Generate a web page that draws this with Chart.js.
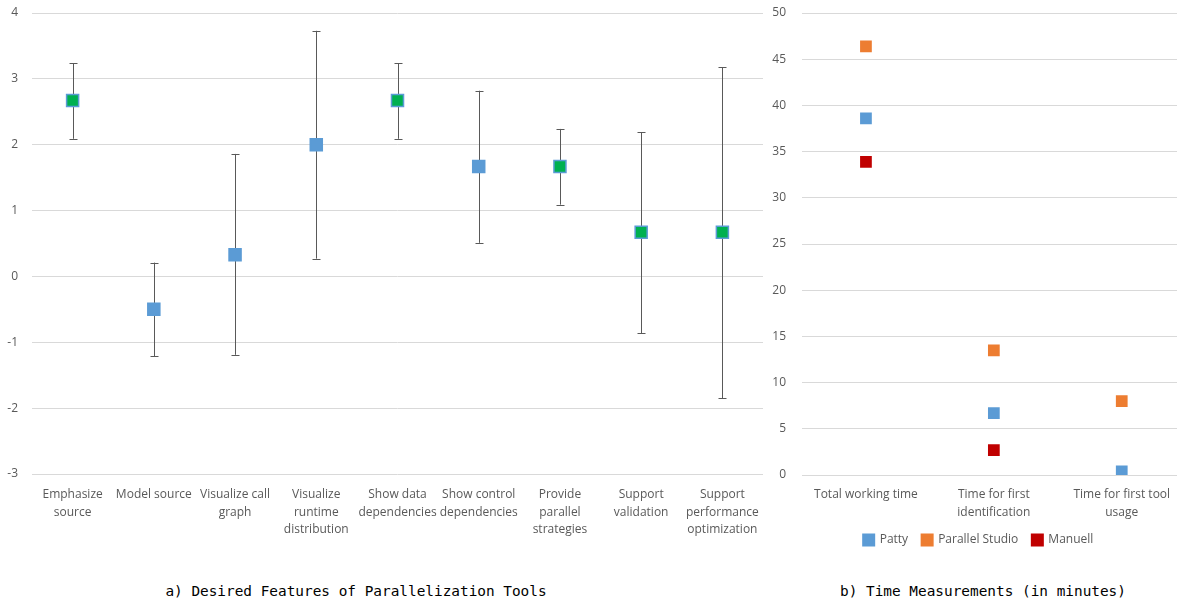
<!DOCTYPE html>
<html>
<head>
<meta charset="utf-8">
<script src="https://cdn.jsdelivr.net/npm/chart.js@4.4.0/dist/chart.umd.min.js"></script>
<style>
  html, body { margin: 0; padding: 0; background: #fff; overflow: hidden; width: 1177px; height: 602px; }
  #wrapA { position: absolute; left: 0; top: 0; width: 773px; height: 560px; }
  #wrapB { position: absolute; left: 765px; top: 0; width: 429px; height: 560px; }
  .caption { position: absolute; top: 583px; font-family: "DejaVu Sans Mono", monospace; font-size: 14.4px; color: #000; white-space: nowrap; transform: translateX(-50%); }
</style>
</head>
<body>
<div id="wrapA"><canvas id="chartA"></canvas></div>
<div id="wrapB"><canvas id="chartB"></canvas></div>
<div class="caption" style="left:356px">a) Desired Features of Parallelization Tools</div>
<div class="caption" style="left:983px">b) Time Measurements (in minutes)</div>
<script>
// chart a) desired features
var features = [
    ['Emphasize', 'source'],
    'Model source',
    ['Visualize call', 'graph'],
    ['Visualize', 'runtime', 'distribution'],
    ['Show data', 'dependencies'],
    ['Show control', 'dependencies'],
    ['Provide', 'parallel', 'strategies'],
    ['Support', 'validation'],
    ['Support', 'performance', 'optimization']
];
var featureMean = [2.67, -0.5, 0.33, 2.0, 2.67, 1.67, 1.67, 0.67, 0.67];
var featureLow  = [2.09, -1.21, -1.19, 0.27, 2.09, 0.51, 1.09, -0.86, -1.85];
var featureHigh = [3.24, 0.21, 1.86, 3.73, 3.24, 2.82, 2.24, 2.19, 3.18];

// chart b) time measurements
var tasks = ['Total working time', ['Time for first', 'identification'], ['Time for first tool', 'usage']];
var patty = [38.6, 6.7, 0.4];
var parallelStudio = [46.4, 13.5, 8.0];
var manuell = [33.9, 2.7, null];

var grey = '#595959';
var gridCol = '#d9d9d9';
var labelFont = { family: '"Open Sans", sans-serif', size: 12, lineHeight: 1.45 };

// green for the marked features, blue for the rest
var markColors = ['#00B050', '#5B9BD5', '#5B9BD5', '#5B9BD5', '#00B050', '#5B9BD5', '#00B050', '#00B050', '#00B050'];

// fixed axis width, no extra top/bottom room from the tick padding
function fixY(w) {
    return function (s) { s.width = w; s.paddingTop = 0; s.paddingBottom = 0; };
}

var errorBars = {
    id: 'errorBars',
    beforeDatasetsDraw: function (chart) {
        var ctx = chart.ctx;
        var x = chart.scales.x, y = chart.scales.y;
        ctx.save();
        ctx.strokeStyle = grey;
        ctx.lineWidth = 1;
        for (var i = 0; i < featureLow.length; i++) {
            var px = Math.round(x.getPixelForValue(i)) + 0.5;
            var top = y.getPixelForValue(featureHigh[i]);
            var bot = y.getPixelForValue(featureLow[i]);
            ctx.beginPath();
            ctx.moveTo(px, top); ctx.lineTo(px, bot);
            ctx.moveTo(px - 4, Math.round(top) + 0.5); ctx.lineTo(px + 4, Math.round(top) + 0.5);
            ctx.moveTo(px - 4, Math.round(bot) + 0.5); ctx.lineTo(px + 4, Math.round(bot) + 0.5);
            ctx.stroke();
        }
        ctx.restore();
    }
};

new Chart(document.getElementById('chartA').getContext('2d'), {
    type: 'line',
    data: {
        labels: features,
        datasets: [{
            data: featureMean,
            showLine: false,
            pointStyle: 'rect',
            pointRadius: 8.5,
            pointBackgroundColor: markColors,
            pointBorderColor: '#5B9BD5',
            pointBorderWidth: 1.5
        }]
    },
    options: {
        responsive: true,
        maintainAspectRatio: false,
        animation: false,
        events: [],
        layout: { padding: { top: 13, right: 4, left: 0, bottom: 0 } },
        plugins: { legend: { display: false }, tooltip: { enabled: false } },
        scales: {
            x: {
                offset: true,
                grid: { display: false },
                border: { display: false },
                ticks: { color: grey, font: labelFont, maxRotation: 0, autoSkip: false, padding: 4 },
                afterFit: function (s) { s.height = 86; }
            },
            y: {
                min: -3, max: 4,
                grid: { color: gridCol, drawTicks: false },
                border: { display: false },
                ticks: { stepSize: 1, color: grey, font: labelFont, padding: 14 },
                afterFit: fixY(32)
            }
        }
    },
    plugins: [errorBars]
});

new Chart(document.getElementById('chartB').getContext('2d'), {
    type: 'line',
    data: {
        labels: tasks,
        datasets: [
            { label: 'Patty', data: patty, backgroundColor: '#5B9BD5', borderColor: '#5B9BD5' },
            { label: 'Parallel Studio', data: parallelStudio, backgroundColor: '#ED7D31', borderColor: '#ED7D31' },
            { label: 'Manuell', data: manuell, backgroundColor: '#C00000', borderColor: '#C00000' }
        ].map(function (d) {
            d.showLine = false;
            d.pointStyle = 'rect';
            d.pointRadius = 8.3;
            d.pointBorderWidth = 0;
            d.pointBackgroundColor = d.backgroundColor;
            return d;
        })
    },
    options: {
        responsive: true,
        maintainAspectRatio: false,
        animation: false,
        events: [],
        layout: { padding: { top: 13, right: 2, left: 0, bottom: 4 } },
        plugins: {
            tooltip: { enabled: false },
            legend: {
                position: 'bottom',
                labels: {
                    color: grey,
                    font: labelFont,
                    boxWidth: 10,
                    boxHeight: 10,
                    padding: 14
                }
            }
        },
        scales: {
            x: {
                offset: true,
                grid: { display: false },
                border: { display: false },
                ticks: { color: grey, font: labelFont, maxRotation: 0, autoSkip: false, padding: 3 },
                afterFit: function (s) { s.height = 45; }
            },
            y: {
                min: 0, max: 50,
                grid: { color: gridCol, drawTicks: false },
                border: { display: false },
                ticks: { stepSize: 5, color: grey, font: labelFont, padding: 16 },
                afterFit: fixY(37)
            }
        }
    }
});
</script>
</body>
</html>
